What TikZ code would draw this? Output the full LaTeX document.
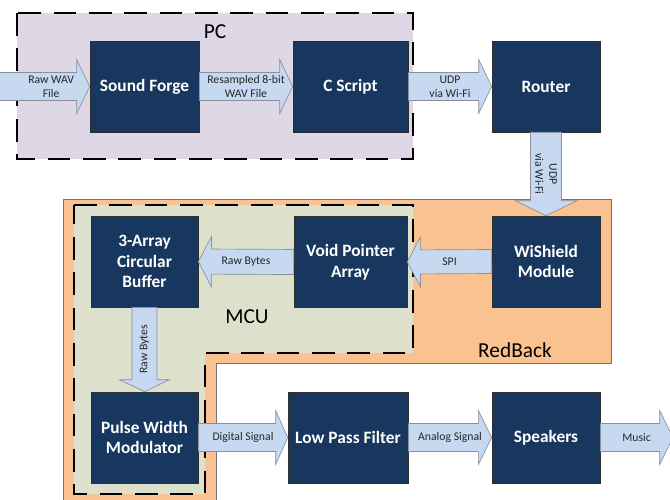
\documentclass[tikz,border=0pt]{standalone}
\usepackage{fontspec}
\setmainfont{Carlito}
\usetikzlibrary{calc}
\definecolor{navy}{HTML}{17375E}
\definecolor{boxline}{HTML}{2E2E2E}
\definecolor{arrfill}{HTML}{C6D9F1}
\definecolor{arrline}{HTML}{8A8F99}
\definecolor{pcfill}{HTML}{DED7E5}
\definecolor{rbfill}{HTML}{FAC191}
\definecolor{mcufill}{HTML}{DDE0CB}
\tikzset{
  blk/.style={draw=boxline, line width=0.5pt, fill=navy, text=white, inner sep=0pt,
    minimum width=81pt, minimum height=68.25pt, align=center,
    font=\fontsize{13}{15.5}\selectfont\bfseries},
  barrowshape/.style={draw=arrline, line width=0.5pt, fill=arrfill},
  alabel/.style={inner sep=0pt, align=center, text=black!85,
    font=\fontsize{8.8}{10.5}\selectfont},
  grouplabel/.style={inner sep=0pt, font=\fontsize{16}{19}\selectfont},
  groupdash/.style={draw=black, line width=2.2pt, dash pattern=on 17pt off 9.5pt},
}
% from, to, body half, head half, head length, label, label fraction, rotation, label name
\newcommand{\blockarrow}[9]{%
  \coordinate (ta) at (#1);
  \coordinate (tb) at (#2);
  \coordinate (hb) at ($(tb)!#5!(ta)$);
  \draw[barrowshape] ($(ta)!#3!90:(tb)$) -- ($(hb)!#3!90:(tb)$) -- ($(hb)!#4!90:(tb)$)
    -- (tb) -- ($(hb)!#4!-90:(tb)$) -- ($(hb)!#3!-90:(tb)$) -- ($(ta)!#3!-90:(tb)$) -- cycle;
  \node[alabel, rotate=#8] (#9) at ($(ta)!#7!(tb)$) {#6};
}
\begin{document}
\begin{tikzpicture}[x=0.75pt, y=-0.75pt]
\clip (0,0) rectangle (670,499);
\fill[white] (0,0) rectangle (670,499);

% PC group
\path[fill=pcfill] (17,13) rectangle (413,159);
\draw[groupdash] (17,13) rectangle (413,159);
\node[grouplabel] (pclabel) at (215,32) {PC};

% RedBack group
\draw[fill=rbfill, draw=black!55, line width=0.6pt]
  (63,199) -- (611,199) -- (611,363) -- (216,363) -- (216,505) -- (63,505) -- cycle;
\node[grouplabel] (rblabel) at (515,350) {RedBack};

% MCU group
\path[fill=mcufill] (74,205) -- (413,205) -- (413,353) -- (205,353) -- (205,494) -- (74,494) -- cycle;
\draw[groupdash] (74,205) -- (413,205) -- (413,353) -- (205,353) -- (205,494) -- (74,494) -- cycle;
\node[grouplabel] (mculabel) at (247,317) {MCU};

% blocks
\node[blk, minimum width=81.75pt] (sf) at (144.5,86.5) {Sound Forge};
\node[blk, minimum width=86.25pt] (cs) at (350.5,86.5) {C Script};
\node[blk] (rt) at (546,86.5) {Router};
\node[blk, minimum width=80.25pt] (cb) at (144.5,261.5) {3-Array\\Circular\\Buffer};
\node[blk, minimum width=84.75pt] (vp) at (350.5,262) {Void Pointer\\Array};
\node[blk] (ws) at (546,261.5) {WiShield\\Module};
\node[blk, minimum width=80.25pt] (pw) at (144.5,437.5) {Pulse Width\\Modulator};
\node[blk, minimum width=90pt] (lp) at (348,437.5) {Low Pass Filter};
\node[blk] (sp) at (546,437.5) {Speakers};

\coordinate (rawin) at (-2,86.5);
\coordinate (musicout) at (673,437.5);

% arrows
\blockarrow{rawin}{sf.west}{10.5pt}{20.25pt}{9.75pt}{Raw WAV\\File}{0.58}{0}{l1}
\blockarrow{sf.east}{cs.west}{10.5pt}{20.25pt}{9.75pt}{Resampled 8-bit\\WAV File}{0.5}{0}{l2}
\blockarrow{cs.east}{rt.west}{10.5pt}{20.25pt}{9.75pt}{UDP\\via Wi-Fi}{0.5}{0}{l3}
\blockarrow{rt.south}{ws.north}{11.6pt}{23.25pt}{11.25pt}{UDP\\via Wi-Fi}{0.5}{-90}{l4}
\blockarrow{ws.west}{vp.east}{9pt}{18.75pt}{9.75pt}{SPI}{0.5}{0}{l5}
\blockarrow{vp.west}{cb.east}{9.4pt}{18.75pt}{9.75pt}{Raw Bytes}{0.5}{0}{l6}
\blockarrow{cb.south}{pw.north}{9.4pt}{18.75pt}{9pt}{Raw Bytes}{0.5}{90}{l7}
\blockarrow{pw.east}{lp.west}{10.5pt}{20.25pt}{9pt}{Digital Signal}{0.5}{0}{l8}
\blockarrow{lp.east}{sp.west}{10.5pt}{20.25pt}{10pt}{Analog Signal}{0.5}{0}{l9}
\blockarrow{sp.east}{musicout}{10.5pt}{20.25pt}{10pt}{Music}{0.5}{0}{l10}
\end{tikzpicture}
\end{document}
